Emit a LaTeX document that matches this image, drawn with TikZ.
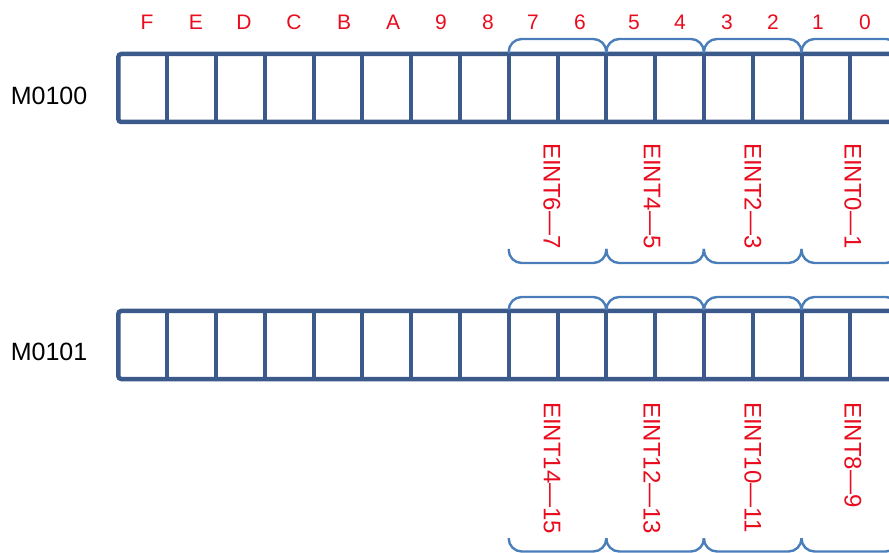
\documentclass[tikz,border=0pt]{standalone}
\usepackage{fontspec}
\setmainfont{Liberation Sans}
\definecolor{regblue}{RGB}{59,89,138}
\definecolor{braceblue}{RGB}{74,126,187}
\definecolor{bitred}{RGB}{232,12,30}
\tikzset{
  register/.style={draw=regblue,line width=4.5pt,rounded corners=3pt},
  divider/.style={draw=regblue,line width=4pt},
  bracket/.style={draw=braceblue,line width=2.4pt,rounded corners=13pt},
  bitlabel/.style={text=bitred,inner sep=0pt,font=\fontsize{21}{24}\selectfont},
  einttext/.style={text=bitred,inner sep=0pt,rotate=-90,anchor=west,font=\fontsize{24}{28}\selectfont},
  regname/.style={inner sep=0pt,font=\fontsize{25}{30}\selectfont}
}
\begin{document}
\begin{tikzpicture}[x=1pt,y=-1pt]
        \useasboundingbox (0,0) rectangle (889,553);
        \clip (0,0) rectangle (889,553);
        % Bit numbers
        \node[bitlabel] (bF) at (147,22) {F};
        \node[bitlabel] (bE) at (196,22) {E};
        \node[bitlabel] (bD) at (244,22) {D};
        \node[bitlabel] (bC) at (294,22) {C};
        \node[bitlabel] (bB) at (344,22) {B};
        \node[bitlabel] (bA) at (393,22) {A};
        \node[bitlabel] (b9) at (441,22) {9};
        \node[bitlabel] (b8) at (488,22) {8};
        \node[bitlabel] (b7) at (533,22) {7};
        \node[bitlabel] (b6) at (580,22) {6};
        \node[bitlabel] (b5) at (634,22) {5};
        \node[bitlabel] (b4) at (680,22) {4};
        \node[bitlabel] (b3) at (727,22) {3};
        \node[bitlabel] (b2) at (773,22) {2};
        \node[bitlabel] (b1) at (818,22) {1};
        \node[bitlabel] (b0) at (865,22) {0};
        % Register names
        \node[regname] (mA) at (49,96) {M0100};
        \node[regname] (mB) at (49,352) {M0101};
        % Registers M0100 and M0101
        \draw[register] (118.3,54) rectangle (910,122);
        \draw[register] (118.3,311) rectangle (910,379);
        \foreach \k in {1,...,15} {
          \draw[divider] (118.3+48.8*\k,54) -- (118.3+48.8*\k,122);
          \draw[divider] (118.3+48.8*\k,311) -- (118.3+48.8*\k,379);
        }
        % Brackets over the bit pairs
        \draw[bracket] (508.7,53) -- (508.7,39) -- (606.3,39) -- (606.3,53);
        \draw[bracket] (606.3,53) -- (606.3,39) -- (703.9,39) -- (703.9,53);
        \draw[bracket] (703.9,53) -- (703.9,39) -- (801.5,39) -- (801.5,53);
        \draw[bracket] (801.5,53) -- (801.5,39) -- (899.1,39) -- (899.1,53);
        \draw[bracket] (508.7,310) -- (508.7,297) -- (606.3,297) -- (606.3,310);
        \draw[bracket] (606.3,310) -- (606.3,297) -- (703.9,297) -- (703.9,310);
        \draw[bracket] (703.9,310) -- (703.9,297) -- (801.5,297) -- (801.5,310);
        \draw[bracket] (801.5,310) -- (801.5,297) -- (899.1,297) -- (899.1,310);
        % Brackets under the interrupt names
        \draw[bracket] (508.7,249) -- (508.7,263) -- (606.3,263) -- (606.3,249);
        \draw[bracket] (606.3,249) -- (606.3,263) -- (703.9,263) -- (703.9,249);
        \draw[bracket] (703.9,249) -- (703.9,263) -- (801.5,263) -- (801.5,249);
        \draw[bracket] (801.5,249) -- (801.5,263) -- (899.1,263) -- (899.1,249);
        \draw[bracket] (508.7,538) -- (508.7,551.5) -- (606.3,551.5) -- (606.3,538);
        \draw[bracket] (606.3,538) -- (606.3,551.5) -- (703.9,551.5) -- (703.9,538);
        \draw[bracket] (703.9,538) -- (703.9,551.5) -- (801.5,551.5) -- (801.5,538);
        \draw[bracket] (801.5,538) -- (801.5,551.5) -- (899.1,551.5) -- (899.1,538);
        % Interrupt names
        \node[einttext] (e67) at (552,143) {EINT6—7};
        \node[einttext] (e45) at (652,143) {EINT4—5};
        \node[einttext] (e23) at (753,143) {EINT2—3};
        \node[einttext] (e01) at (853,143) {EINT0—1};
        \node[einttext] (e1415) at (552,402) {EINT14—15};
        \node[einttext] (e1213) at (652,402) {EINT12—13};
        \node[einttext] (e1011) at (753,402) {EINT10—11};
        \node[einttext] (e89) at (853,402) {EINT8—9};
\end{tikzpicture}
\end{document}
